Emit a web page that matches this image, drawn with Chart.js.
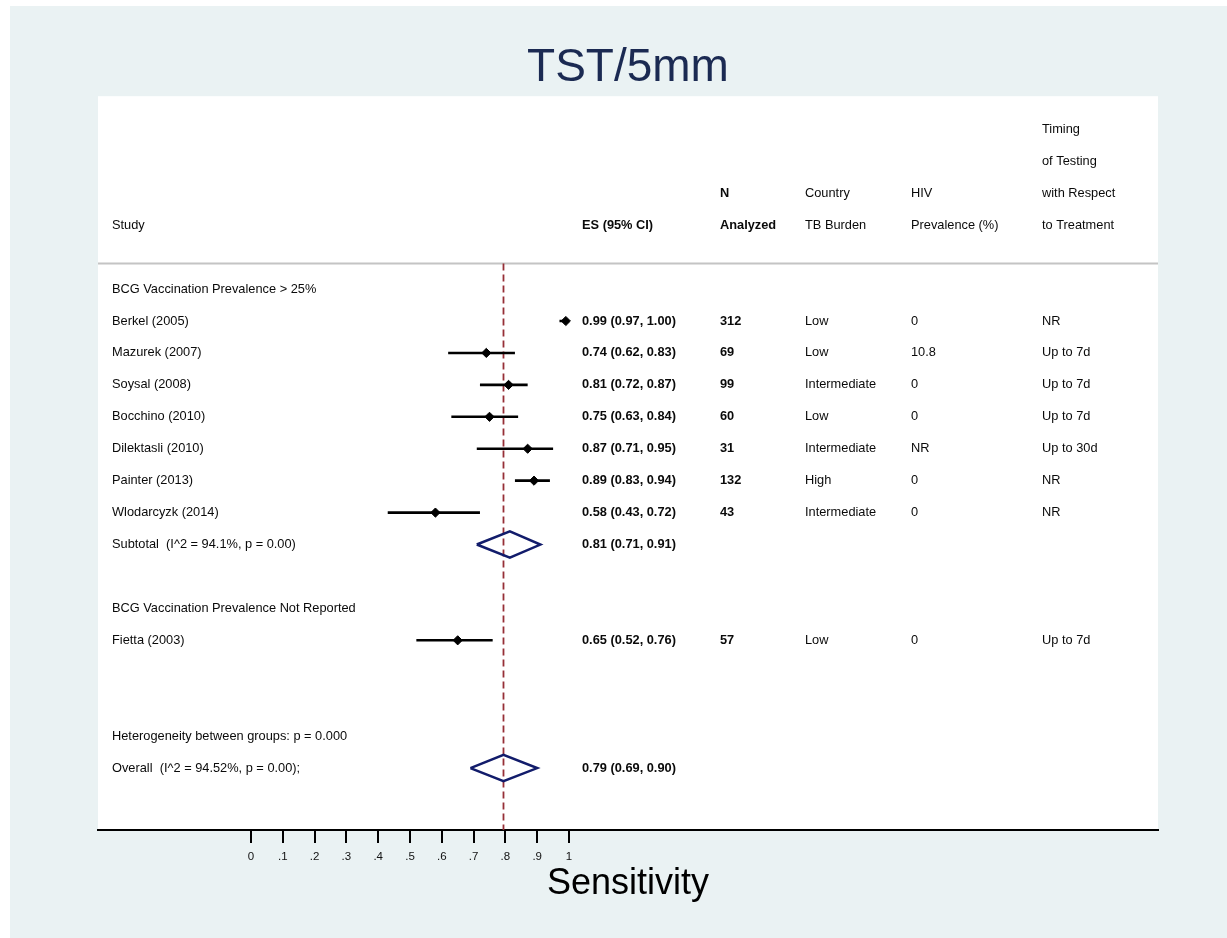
<!DOCTYPE html>
<html>
<head>
<meta charset="utf-8">
<title>TST/5mm</title>
<script src="https://cdn.jsdelivr.net/npm/chart.js@4.4.1/dist/chart.umd.min.js"></script>
<style>
  html, body { margin: 0; padding: 0; background: #fff; }
  #wrap { position: relative; width: 1227px; height: 938px; }
</style>
</head>
<body>
<div id="wrap"><canvas id="forest"></canvas></div>
<script>
// ---- data ----
const studies = ['Berkel (2005)', 'Mazurek (2007)', 'Soysal (2008)', 'Bocchino (2010)',
  'Dilektasli (2010)', 'Painter (2013)', 'Wlodarcyzk (2014)', 'Fietta (2003)'];
const studyRows = [1, 2, 3, 4, 5, 6, 7, 11];
const es = [0.99, 0.74, 0.81, 0.75, 0.87, 0.89, 0.58, 0.65];
const ciLow = [0.97, 0.62, 0.72, 0.63, 0.71, 0.83, 0.43, 0.52];
const ciHigh = [1.00, 0.83, 0.87, 0.84, 0.95, 0.94, 0.72, 0.76];
const nAnalyzed = ['312', '69', '99', '60', '31', '132', '43', '57'];
const tbBurden = ['Low', 'Low', 'Intermediate', 'Low', 'Intermediate', 'High', 'Intermediate', 'Low'];
const hivPrev = ['0', '10.8', '0', '0', 'NR', '0', '0', '0'];
const timing = ['NR', 'Up to 7d', 'Up to 7d', 'Up to 7d', 'Up to 30d', 'NR', 'NR', 'Up to 7d'];

const groupLabels = ['BCG Vaccination Prevalence > 25%', 'BCG Vaccination Prevalence Not Reported'];
const groupRows = [0, 10];

const pooledLabels = ['Subtotal  (I^2 = 94.1%, p = 0.00)', 'Overall  (I^2 = 94.52%, p = 0.00);'];
const pooledRows = [8, 15];
const pooledEs = [0.814, 0.794];
const pooledLow = [0.71, 0.69];
const pooledHigh = [0.91, 0.90];
const pooledText = ['0.81 (0.71, 0.91)', '0.79 (0.69, 0.90)'];

const noteText = 'Heterogeneity between groups: p = 0.000';
const noteRow = 14;

const headerRows = [-5, -4, -3, -2];
const studyHeader = ['', '', '', 'Study'];
const esHeader = ['', '', '', 'ES (95% CI)'];
const nHeader = ['', '', 'N', 'Analyzed'];
const countryHeader = ['', '', 'Country', 'TB Burden'];
const hivHeader = ['', '', 'HIV', 'Prevalence (%)'];
const timingHeader = ['Timing', 'of Testing', 'with Respect', 'to Treatment'];

const xTickValues = [0, 0.1, 0.2, 0.3, 0.4, 0.5, 0.6, 0.7, 0.8, 0.9, 1];
const xTickLabels = ['0', '.1', '.2', '.3', '.4', '.5', '.6', '.7', '.8', '.9', '1'];

// ---- layout ----
const X_MIN = -0.481, X_MAX = 2.852;
const ROW_MIN = -6.04, ROW_MAX = 16.94;
const SEP_ROW = -0.8;
const FONT = '"Liberation Sans", Arial, Helvetica, sans-serif';
const COL = { study: 112, es: 582, n: 720, country: 805, hiv: 911, timing: 1042 };
const NAVY = '#121c6b';

// CI whiskers, one small dataset per study
const ciSets = studies.map((s, i) => ({
  label: s,
  data: [{ x: ciLow[i], y: studyRows[i] }, { x: ciHigh[i], y: studyRows[i] }],
  showLine: true,
  borderColor: '#000',
  borderWidth: 2.6,
  pointRadius: 0,
  order: 1
}));

// pooled estimates as outlined diamonds
const diamondSets = pooledLabels.map((s, i) => {
  const r = pooledRows[i];
  return {
    label: s,
    data: [
      { x: pooledLow[i], y: r },
      { x: pooledEs[i], y: r - 0.41 },
      { x: pooledHigh[i], y: r },
      { x: pooledEs[i], y: r + 0.41 },
      { x: pooledLow[i], y: r }
    ],
    showLine: true,
    borderColor: NAVY,
    borderWidth: 2.5,
    pointRadius: 0,
    order: 1
  };
});

const backdrop = {
  id: 'backdrop',
  beforeDraw(chart) {
    const { ctx, chartArea: a } = chart;
    ctx.save();
    ctx.fillStyle = '#ffffff';
    ctx.fillRect(0, 0, chart.width, chart.height);
    ctx.fillStyle = '#eaf2f3';
    ctx.fillRect(10, 6, chart.width - 10, chart.height - 6);
    ctx.fillStyle = '#ffffff';
    ctx.fillRect(a.left, a.top, a.right - a.left, a.bottom - a.top);
    ctx.restore();
  }
};

// table columns written next to the plot
const tableText = {
  id: 'tableText',
  afterDatasetsDraw(chart) {
    const { ctx } = chart;
    const yScale = chart.scales.y;
    const put = (text, x, row, bold) => {
      if (!text) return;
      ctx.font = (bold ? 'bold ' : '') + '12.8px ' + FONT;
      ctx.fillText(text, x, yScale.getPixelForValue(row));
    };
    ctx.save();
    ctx.fillStyle = '#0a0a0a';
    ctx.textAlign = 'left';
    ctx.textBaseline = 'middle';

    headerRows.forEach((r, i) => {
      put(studyHeader[i], COL.study, r);
      put(esHeader[i], COL.es, r, true);
      put(nHeader[i], COL.n, r, true);
      put(countryHeader[i], COL.country, r);
      put(hivHeader[i], COL.hiv, r);
      put(timingHeader[i], COL.timing, r);
    });

    groupLabels.forEach((g, i) => put(g, COL.study, groupRows[i]));

    studies.forEach((s, i) => {
      const r = studyRows[i];
      put(s, COL.study, r);
      put(es[i].toFixed(2) + ' (' + ciLow[i].toFixed(2) + ', ' + ciHigh[i].toFixed(2) + ')', COL.es, r, true);
      put(nAnalyzed[i], COL.n, r, true);
      put(tbBurden[i], COL.country, r);
      put(hivPrev[i], COL.hiv, r);
      put(timing[i], COL.timing, r);
    });

    pooledLabels.forEach((p, i) => {
      put(p, COL.study, pooledRows[i]);
      put(pooledText[i], COL.es, pooledRows[i], true);
    });

    put(noteText, COL.study, noteRow);
    ctx.restore();
  }
};

new Chart(document.getElementById('forest'), {
  type: 'scatter',
  data: {
    datasets: [
      {
        label: 'Estimates',
        data: studies.map((s, i) => ({ x: es[i], y: studyRows[i] })),
        pointStyle: 'rectRot',
        pointRadius: 4.6,
        pointBackgroundColor: '#000',
        pointBorderColor: '#000',
        pointBorderWidth: 1,
        showLine: false,
        order: 0
      },
      ...ciSets,
      ...diamondSets,
      {
        label: 'Overall',
        data: [{ x: pooledEs[1], y: SEP_ROW }, { x: pooledEs[1], y: ROW_MAX }],
        showLine: true,
        borderColor: '#962f37',
        borderWidth: 1.8,
        borderDash: [7, 4],
        pointRadius: 0,
        order: 2
      },
      {
        label: 'separator',
        data: [{ x: X_MIN, y: SEP_ROW }, { x: X_MAX, y: SEP_ROW }],
        showLine: true,
        borderColor: '#c4c4c4',
        borderWidth: 2,
        pointRadius: 0,
        order: 3
      }
    ]
  },
  options: {
    responsive: true,
    maintainAspectRatio: false,
    animation: false,
    events: [],
    layout: { padding: { left: 98, right: 69, top: 0, bottom: 0 } },
    plugins: {
      legend: { display: false },
      tooltip: { enabled: false },
      title: {
        display: true,
        text: 'TST/5mm',
        color: '#1b2a52',
        font: { family: FONT, size: 46, weight: 'normal', lineHeight: 1.2 },
        padding: { top: 41, bottom: 0 }
      }
    },
    scales: {
      x: {
        type: 'linear',
        position: 'bottom',
        min: X_MIN,
        max: X_MAX,
        afterBuildTicks(scale) {
          scale.ticks = xTickValues.map(v => ({ value: v }));
        },
        afterFit(scale) {
          scale.height = 108;
        },
        ticks: {
          autoSkip: false,
          maxRotation: 0,
          padding: 7,
          color: '#111',
          font: { family: FONT, size: 11.5 },
          callback: (v) => {
            const k = xTickValues.findIndex(t => Math.abs(t - v) < 1e-9);
            return k >= 0 ? xTickLabels[k] : '';
          }
        },
        grid: {
          drawOnChartArea: false,
          drawTicks: true,
          tickLength: 13,
          color: '#000',
          lineWidth: 2
        },
        border: { display: true, color: '#000', width: 2 },
        title: {
          display: true,
          text: 'Sensitivity',
          color: '#000',
          font: { family: FONT, size: 36, lineHeight: 1.2 },
          padding: { top: 0, bottom: 32 }
        }
      },
      y: {
        type: 'linear',
        display: false,
        reverse: true,
        min: ROW_MIN,
        max: ROW_MAX
      }
    }
  },
  plugins: [backdrop, tableText]
});
</script>
</body>
</html>
